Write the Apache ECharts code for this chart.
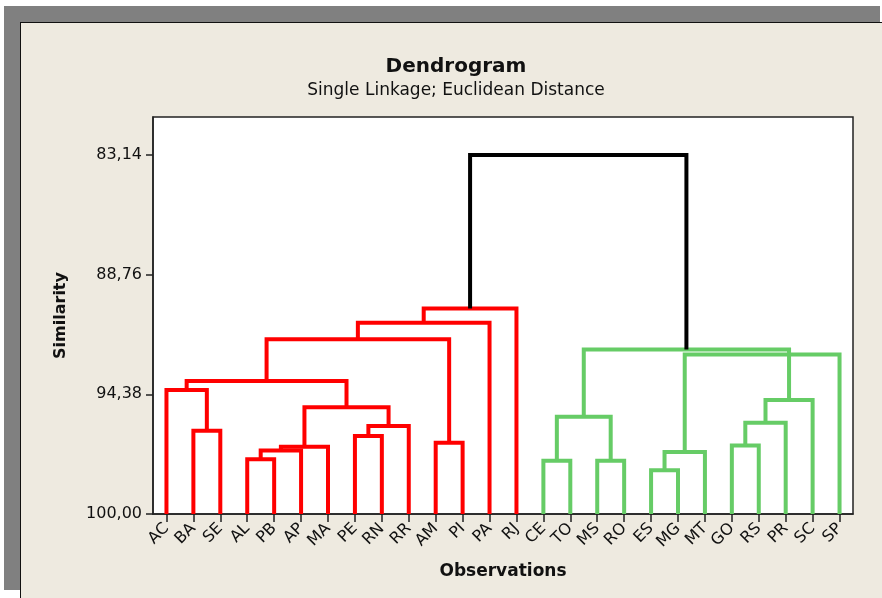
<!DOCTYPE html>
<html>
<head>
<meta charset="utf-8">
<title>Dendrogram</title>
<script src="https://cdn.jsdelivr.net/npm/echarts@6/dist/echarts.min.js"></script>
<style>
  html, body { margin: 0; padding: 0; background: #ffffff; }
  #page { position: relative; width: 882px; height: 598px; overflow: hidden; }
  #frame { position: absolute; left: 4px; top: 6px; width: 876px; height: 584px; background: #808080; }
  #panel { position: absolute; left: 20px; top: 22px; right: 0; bottom: 0;
           background: #EEEAE0; border-left: 1px solid #111; border-top: 1px solid #111; }
  #chart { position: absolute; left: 0; top: 0; width: 882px; height: 598px; }
</style>
</head>
<body>
<div id="page">
  <div id="frame"></div>
  <div id="panel"></div>
  <div id="chart"></div>
</div>
<script>
// Observations, in leaf order along the x axis
const leaves = ['AC','BA','SE','AL','PB','AP','MA','PE','RN','RR','AM','PI','PA','RJ',
                'CE','TO','MS','RO','ES','MG','MT','GO','RS','PR','SC','SP'];

// Linkage steps: node ids 0..25 are leaves, step k creates node 26+k
const linkA          = [3, 26, 27, 7, 29, 28, 1, 0, 33, 10, 34, 36, 37,
                        14, 16, 39, 18, 42, 21, 44, 45, 41, 43,
                        38];
const linkB          = [4, 5, 6, 8, 9, 30, 2, 32, 31, 11, 35, 12, 13,
                        15, 17, 40, 19, 20, 22, 23, 24, 46, 25,
                        47];
const linkSimilarity = [97.43, 97.02, 96.84, 96.34, 95.87, 94.99, 96.09, 94.18, 93.76, 96.65, 91.80, 91.02, 90.35,
                        97.50, 97.50, 95.43, 97.94, 97.09, 96.78, 95.71, 94.65, 92.28, 92.51,
                        83.14];
const linkCluster    = [0, 0, 0, 0, 0, 0, 0, 0, 0, 0, 0, 0, 0,
                        1, 1, 1, 1, 1, 1, 1, 1, 1, 1,
                        2];

// Similarity tick labels
const yTicks = [83.14, 88.76, 94.38, 100.00];

const clusterColors = ['#FF0000', '#66CC66', '#000000'];
const FONT = 'DejaVu Sans';

// Node positions: leaves sit at their index, a merge sits midway between its children
const nodeX = leaves.map((_, i) => i);
const nodeH = leaves.map(() => 100);
const links = [];
for (let k = 0; k < linkA.length; k++) {
  const a = linkA[k], b = linkB[k], h = linkSimilarity[k];
  links.push([nodeX[a], nodeH[a], nodeX[b], nodeH[b], h, linkCluster[k]]);
  nodeX.push((nodeX[a] + nodeX[b]) / 2);
  nodeH.push(h);
}

const fmt = v => Number(v).toFixed(2).replace('.', ',');

const chart = echarts.init(document.getElementById('chart'), null, { renderer: 'canvas' });
chart.setOption({
  backgroundColor: 'transparent',
  animation: false,
  graphic: [
    { type: 'text', x: 456, y: 67, style: { text: 'Dendrogram', font: 'bold 20px "DejaVu Sans"',
      fill: '#111', textAlign: 'center', textVerticalAlign: 'middle' } },
    { type: 'text', x: 456, y: 91, style: { text: 'Single Linkage; Euclidean Distance', font: '17px "DejaVu Sans"',
      fill: '#111', textAlign: 'center', textVerticalAlign: 'middle' } }
  ],
  grid: { left: 153, top: 117, width: 700, height: 397, show: true,
          backgroundColor: '#ffffff', borderColor: '#222', borderWidth: 1.5 },
  xAxis: {
    type: 'value', min: -0.5, max: leaves.length - 0.5,
    name: 'Observations', nameLocation: 'middle', nameGap: 49, nameMoveOverlap: false,
    nameTextStyle: { fontFamily: FONT, fontWeight: 'bold', fontSize: 17, color: '#111' },
    splitLine: { show: false },
    axisLine: { show: true, onZero: false, lineStyle: { color: '#222', width: 1.5 } },
    axisTick: { show: true, length: 8, customValues: leaves.map((_, i) => i), lineStyle: { color: '#222', width: 1.5 } },
    axisLabel: { show: true, rotate: 45, margin: 12, customValues: leaves.map((_, i) => i),
                 formatter: v => leaves[Math.round(v)], fontFamily: FONT, fontSize: 16, color: '#111' }
  },
  yAxis: {
    type: 'value', inverse: true, min: 81.36, max: 100,
    name: 'Similarity', nameLocation: 'middle', nameGap: 84, nameRotate: 90, nameMoveOverlap: false,
    nameTextStyle: { fontFamily: FONT, fontWeight: 'bold', fontSize: 16, color: '#111' },
    splitLine: { show: false },
    axisLine: { show: true, onZero: false, lineStyle: { color: '#222', width: 1.5 } },
    axisTick: { show: true, length: 7, customValues: yTicks, lineStyle: { color: '#222', width: 1.5 } },
    axisLabel: { show: true, margin: 11, customValues: yTicks, formatter: fmt,
                 fontFamily: FONT, fontSize: 16, color: '#111' }
  },
  series: [{
    type: 'custom',
    coordinateSystem: 'cartesian2d',
    data: links,
    encode: { x: [0, 2], y: [1, 3, 4] },
    renderItem: (params, api) => {
      const xa = api.value(0), ha = api.value(1), xb = api.value(2), hb = api.value(3), h = api.value(4);
      const pts = [api.coord([xa, ha]), api.coord([xa, h]), api.coord([xb, h]), api.coord([xb, hb])];
      return {
        type: 'polyline',
        shape: { points: pts },
        style: { stroke: clusterColors[api.value(5)], lineWidth: 4, fill: null, lineJoin: 'miter', lineCap: 'butt' }
      };
    },
    z: 3
  }]
});
</script>
</body>
</html>
